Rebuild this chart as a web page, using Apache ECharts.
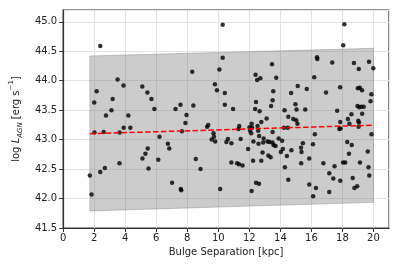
<!DOCTYPE html>
<html>
<head>
<meta charset="utf-8">
<script src="https://cdn.jsdelivr.net/npm/echarts@6/dist/echarts.min.js"></script>
<style>html,body{margin:0;padding:0;background:#fff}#c{width:399px;height:266px}</style>
</head>
<body>
<div id="c"></div>
<script>
// Scatter data: bulge separation [kpc] and log L_AGN
const sepX = [1.72,1.83,2.00,2.02,2.16,2.39,2.39,2.61,2.69,2.76,3.11,3.19,3.51,3.63,3.64,3.89,3.90,4.20,4.33,5.10,
5.11,5.30,5.43,5.45,5.50,5.69,5.88,6.13,6.21,6.75,6.84,7.02,7.24,7.56,7.58,7.61,7.65,7.88,7.95,8.32,
8.39,8.55,8.85,9.28,9.35,9.57,9.69,9.72,9.78,9.80,9.91,10.07,10.12,10.28,10.28,10.42,10.42,10.52,10.62,10.84,
10.84,10.95,11.21,11.30,11.33,11.35,11.44,11.56,11.92,12.01,12.04,12.12,12.15,12.18,12.15,12.24,12.26,12.37,12.40,12.43,
12.43,12.50,12.53,12.57,12.59,12.62,12.63,12.66,12.71,12.77,12.77,12.85,12.89,12.92,13.11,13.17,13.22,13.29,13.37,13.40,
13.46,13.49,13.50,13.50,13.54,13.56,13.69,13.73,13.89,14.03,14.11,14.16,14.23,14.27,14.29,14.42,14.48,14.51,14.51,14.69,
14.71,14.83,14.97,15.02,15.04,15.10,15.12,15.33,15.36,15.45,15.34,15.60,15.70,15.86,15.86,16.10,16.11,16.18,16.22,16.29,
16.36,16.38,16.77,16.94,17.15,17.15,17.34,17.41,17.49,17.66,17.80,17.88,17.85,17.86,17.86,18.04,18.05,18.12,18.18,18.31,
18.35,18.42,18.45,18.58,18.60,18.66,18.74,18.77,18.95,18.97,18.99,19.02,19.05,19.06,19.04,19.08,19.12,19.13,19.22,19.26,
19.27,19.37,19.63,19.68,19.71,19.73,19.81,19.86,19.87,19.99];
const logL = [42.39,42.07,43.63,43.12,43.82,44.59,42.45,43.13,42.52,43.41,43.50,43.69,44.02,42.60,43.12,43.92,43.20,43.41,43.20,43.90,
42.68,42.76,43.80,42.85,42.51,43.69,43.52,42.66,43.05,42.93,42.85,42.27,43.52,43.59,42.16,42.14,43.14,43.28,43.42,44.15,
43.58,42.67,42.50,43.22,43.25,43.00,43.11,43.05,43.94,42.97,43.84,44.19,42.16,44.95,44.39,43.79,43.59,42.96,43.01,42.94,
42.61,43.52,42.60,43.18,42.58,43.23,43.01,42.56,42.84,43.21,43.15,43.11,43.27,43.20,42.13,42.64,42.97,43.52,44.10,43.64,
42.27,44.01,43.23,43.15,42.93,42.25,43.06,43.48,44.04,43.30,42.64,42.78,42.95,43.02,43.36,42.97,42.73,42.96,42.70,43.57,
44.28,42.95,43.13,43.67,43.82,42.91,42.89,44.05,43.02,42.79,42.98,42.84,43.20,43.50,42.53,42.72,43.20,43.39,42.32,43.79,
42.82,43.35,43.60,43.33,43.51,43.27,43.91,42.86,42.79,42.94,42.60,43.51,43.86,42.68,42.24,42.92,42.04,44.06,43.09,42.18,
44.40,44.37,42.60,43.80,42.43,42.11,44.31,42.34,42.55,43.49,43.18,43.19,43.89,43.30,42.30,42.61,44.60,44.96,42.61,42.96,
43.35,42.76,43.27,43.43,42.91,42.35,44.30,42.18,42.21,43.57,43.87,43.32,44.20,43.29,43.22,43.55,43.88,42.61,43.56,43.84,
43.44,43.56,42.80,42.53,44.32,42.39,43.65,43.77,43.09,44.21];

// Fit line (red dashed)
const fitX = [1.72, 20.0];
const fitY = [43.10, 43.245];

// Shaded band
const bandX = [1.72, 20.0];
const bandLow = [41.79, 41.935];
const bandHigh = [44.42, 44.55];

const xTicks = {min: 0, max: 21, interval: 2};
const yTicks = {min: 41.5, max: 45.2, interval: 0.5};

const chart = echarts.init(document.getElementById('c'), null, {renderer: 'canvas'});
const font = 'DejaVu Sans';
const axisCommon = {
  axisLine: {show: true, lineStyle: {color: '#333', width: 1.2}},
  axisTick: {show: true, inside: false, length: 4, lineStyle: {color: '#333', width: 1}},
  splitLine: {show: true, lineStyle: {color: '#e2e2e2', width: 1}},
  nameTextStyle: {fontFamily: font, fontSize: 10, color: '#222'}
};
chart.setOption({
  animation: false,
  backgroundColor: '#fff',
  grid: {left: 55, right: 10, top: 10, bottom: 38, show: true, borderColor: '#333', borderWidth: 1.2, backgroundColor: 'transparent'},
  xAxis: Object.assign({}, axisCommon, {
    type: 'value', min: xTicks.min, max: xTicks.max, interval: xTicks.interval,
    name: 'Bulge Separation [kpc]', nameLocation: 'middle', nameGap: 17,
    axisLabel: {fontFamily: font, fontSize: 10, color: '#222', margin: 5, showMaxLabel: false}
  }),
  yAxis: Object.assign({}, axisCommon, {
    type: 'value', min: yTicks.min, max: yTicks.max, interval: yTicks.interval,
    name: '{n|log }{i|L}{sub|AGN}{n| [erg s}{sup|−1}{n|]}', nameLocation: 'middle', nameGap: 30,
    nameTextStyle: {fontFamily: font, fontSize: 10, color: '#222', rich: {
      n: {fontFamily: font, fontSize: 10, color: '#222', lineHeight: 16, verticalAlign: 'middle'},
      i: {fontFamily: font, fontSize: 10, color: '#222', fontStyle: 'italic', lineHeight: 16, verticalAlign: 'middle'},
      sub: {fontFamily: font, fontSize: 7, color: '#222', fontStyle: 'italic', lineHeight: 16, verticalAlign: 'bottom', padding: [6,0,0,0]},
      sup: {fontFamily: font, fontSize: 7, color: '#222', lineHeight: 16, verticalAlign: 'top', padding: [0,0,6,0]}
    }},
    axisLabel: {fontFamily: font, fontSize: 10, color: '#222', margin: 6, showMaxLabel: false,
      formatter: v => v.toFixed(1)}
  }),
  series: [
    {
      type: 'custom', z: 1, clip: true,
      data: bandX.map((x, i) => [x, bandLow[i], bandHigh[i]]),
      encode: {x: 0, y: [1, 2]},
      renderItem: (params, api) => {
        if (params.dataIndex !== 0) return null;
        const top = bandX.map((x, i) => api.coord([x, bandHigh[i]]));
        const bot = bandX.map((x, i) => api.coord([x, bandLow[i]])).reverse();
        return {type: 'polygon', shape: {points: top.concat(bot)},
          style: {fill: 'rgba(128,128,128,0.4)', stroke: 'rgba(110,110,110,0.35)', lineWidth: 1}};
      }
    },
    {
      type: 'scatter', z: 3, symbol: 'circle', symbolSize: 4.5,
      itemStyle: {color: '#000'},
      data: sepX.map((x, i) => [x, logL[i]])
    },
    {
      type: 'line', z: 4, symbol: 'none',
      lineStyle: {color: '#ff0000', width: 1.5, type: [5.5, 2.4]},
      data: fitX.map((x, i) => [x, fitY[i]])
    }
  ]
});
</script>
</body>
</html>
